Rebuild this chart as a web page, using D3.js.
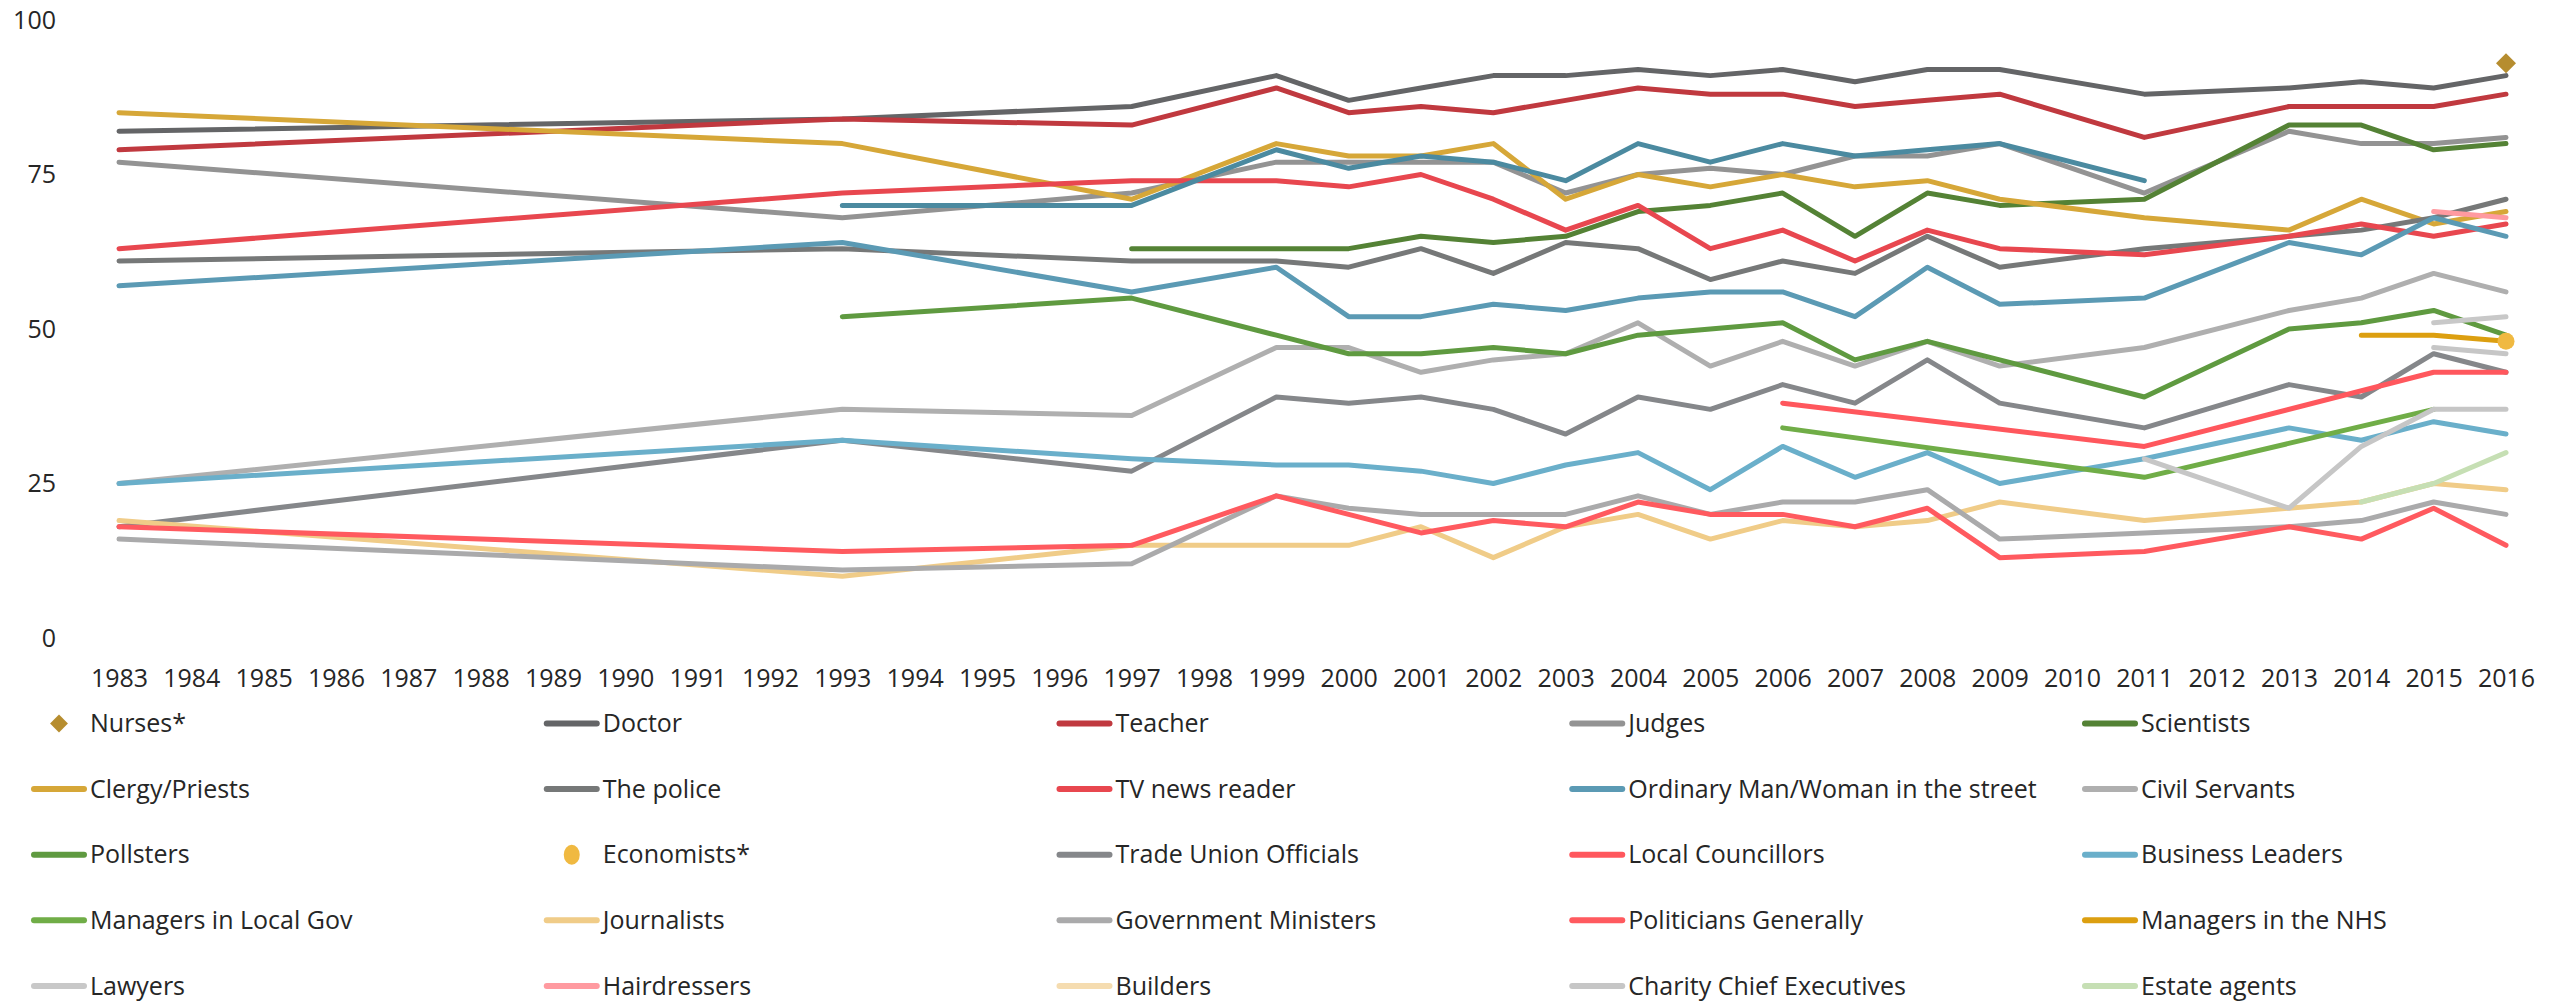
<!DOCTYPE html>
<html>
<head>
<meta charset="utf-8">
<script src="https://cdn.jsdelivr.net/npm/d3@7"></script>
<style>
  html, body { margin: 0; padding: 0; background: #fff; }
  svg { display: block; }
  text { font-family: "Open Sans", "Noto Sans", sans-serif; fill: #262626; }
</style>
</head>
<body>
<svg id="chart" width="2569" height="1001"></svg>
<script>
// ---------- data ----------
const axisYears = d3.range(1983, 2017).map(String);          // tick labels
const yTicks = [0, 25, 50, 75, 100];
const dataYears = ["1983","1993","1997","1999","2000","2001","2002","2003","2004","2005","2006","2007","2008","2009","2011","2013","2014","2015","2016"];
const _ = null;

const nurses        = [_,_,_,_,_,_,_,_,_,_,_,_,_,_,_,_,_,_,93];
const doctor        = [82,84,86,91,87,89,91,91,92,91,92,90,92,92,88,89,90,89,91];
const teacher       = [79,84,83,89,85,86,85,87,89,88,88,86,87,88,81,86,86,86,88];
const judges        = [77,68,72,77,77,77,77,72,75,76,75,78,78,80,72,82,80,80,81];
const scientists    = [_,_,63,63,63,65,64,65,69,70,72,65,72,70,71,83,83,79,80];
const clergy        = [85,80,71,80,78,78,80,71,75,73,75,73,74,71,68,66,71,67,69];
const police        = [61,63,61,61,60,63,59,64,63,58,61,59,65,60,63,65,66,68,71];
const tvNews        = [63,72,74,74,73,75,71,66,70,63,66,61,66,63,62,65,67,65,67];
const ordinary      = [57,64,56,60,52,52,54,53,55,56,56,52,60,54,55,64,62,68,65];
const civilServants = [25,37,36,47,47,43,45,46,51,44,48,44,48,44,47,53,55,59,56];
const pollsters     = [_,52,55,49,46,46,47,46,49,50,51,45,48,45,39,50,51,53,49];
const economists    = [_,_,_,_,_,_,_,_,_,_,_,_,_,_,_,_,_,_,48];
const tradeUnion    = [18,32,27,39,38,39,37,33,39,37,41,38,45,38,34,41,39,46,43];
const councillors   = [_,_,_,_,_,_,_,_,_,_,38,_,_,_,31,_,_,43,43];
const business      = [25,32,29,28,28,27,25,28,30,24,31,26,30,25,29,34,32,35,33];
const managersLG    = [_,_,_,_,_,_,_,_,_,_,34,_,_,_,26,_,_,37,_];
const journalists   = [19,10,15,15,15,18,13,18,20,16,19,18,19,22,19,21,22,25,24];
const govMinisters  = [16,11,12,23,21,20,20,20,23,20,22,22,24,16,17,18,19,22,20];
const politicians   = [18,14,15,23,20,17,19,18,22,20,20,18,21,13,14,18,16,21,15];
const managersNHS   = [_,_,_,_,_,_,_,_,_,_,_,_,_,_,_,_,49,49,48];
const lawyers       = [_,_,_,_,_,_,_,_,_,_,_,_,_,_,_,_,_,51,52];
const hairdressers  = [_,_,_,_,_,_,_,_,_,_,_,_,_,_,_,_,_,69,68];
const builders      = [_,_,_,_,_,_,_,_,_,_,_,_,_,_,_,_,_,_,_];
const charityCEs    = [_,_,_,_,_,_,_,_,_,_,_,_,_,_,_,_,_,47,46];
const estateAgents  = [_,_,_,_,_,_,_,_,_,_,_,_,_,_,_,_,22,25,30];
// two further series drawn in the plot whose legend rows fall outside the picture
const professors    = [_,70,70,79,76,78,77,74,80,77,80,78,79,80,74,_,_,_,_];
const bankers       = [_,_,_,_,_,_,_,_,_,_,_,_,_,_,29,21,31,37,37];

const seriesNames = ["Nurses*","Doctor","Teacher","Judges","Scientists",
  "Clergy/Priests","The police","TV news reader","Ordinary Man/Woman in the street","Civil Servants",
  "Pollsters","Economists*","Trade Union Officials","Local Councillors","Business Leaders",
  "Managers in Local Gov","Journalists","Government Ministers","Politicians Generally","Managers in the NHS",
  "Lawyers","Hairdressers","Builders","Charity Chief Executives","Estate agents",
  "Professors","Bankers"];
const seriesValues = [nurses,doctor,teacher,judges,scientists,
  clergy,police,tvNews,ordinary,civilServants,
  pollsters,economists,tradeUnion,councillors,business,
  managersLG,journalists,govMinisters,politicians,managersNHS,
  lawyers,hairdressers,builders,charityCEs,estateAgents,
  professors,bankers];
const seriesColors = ["#b68d2f","#646567","#c0393f","#939393","#548235",
  "#d6a738","#767878","#e8474f","#5b9ab4","#afafaf",
  "#5f9a40","#f0b941","#85878a","#ff575d","#6aafca",
  "#70ad47","#f0cc88","#aaaaab","#ff5a5f","#dc9f10",
  "#c8c8c8","#ff9aa0","#f5dcb0","#c6c6c6","#c6dfb4",
  "#4b8aa0","#c6c6c6"];
const seriesKinds = ["diamond","line","line","line","line",
  "line","line","line","line","line",
  "line","dot","line","line","line",
  "line","line","line","line","line",
  "line","line","line","line","line",
  "line","line"];
const legendCount = 25;   // rows visible in the picture
</script>
<script>
const svg = d3.select("#chart");
const FS = 25;
const x = d3.scalePoint().domain(axisYears).range([119, 2506]);
const y = d3.scaleLinear().domain([0, 100]).range([638, 20]);

// y axis labels
const yAxis = d3.axisLeft(y).tickValues(yTicks).tickSize(0).tickPadding(0);
const gy = svg.append("g").attr("transform", "translate(56,0)").call(yAxis);
gy.select(".domain").remove();
gy.selectAll("text").attr("font-size", FS).attr("font-family", "Open Sans").attr("fill", "#262626");

// x axis labels
const xAxis = d3.axisBottom(x).tickSize(0).tickPadding(0);
const gx = svg.append("g").attr("transform", "translate(0,678)").call(xAxis);
gx.select(".domain").remove();
gx.selectAll("text").attr("font-size", FS).attr("font-family", "Open Sans").attr("fill", "#262626")
  .attr("y", 0).attr("dy", "0.35em");

const series = seriesNames.map((name, i) => ({
  name, color: seriesColors[i], kind: seriesKinds[i],
  points: dataYears.map((yr, j) => ({ year: yr, value: seriesValues[i][j] })).filter(p => p.value !== null)
}));

const line = d3.line().x(d => x(d.year)).y(d => y(d.value));
const plot = svg.append("g");

series.forEach(s => {
  if (s.kind === "line" && s.points.length > 1) {
    plot.append("path").datum(s.points)
      .attr("d", line)
      .attr("fill", "none")
      .attr("stroke", s.color)
      .attr("stroke-width", 5)
      .attr("stroke-linejoin", "round")
      .attr("stroke-linecap", "round");
  }
});
series.forEach(s => {
  if (s.kind === "diamond") {
    plot.selectAll(null).data(s.points).join("path")
      .attr("d", d3.symbol(d3.symbolSquare, 200)())
      .attr("transform", d => `translate(${x(d.year)},${y(d.value)}) rotate(45)`)
      .attr("fill", s.color);
  } else if (s.kind === "dot") {
    plot.selectAll(null).data(s.points).join("circle")
      .attr("cx", d => x(d.year)).attr("cy", d => y(d.value)).attr("r", 8.5)
      .attr("fill", s.color);
  }
});

// legend
const legend = svg.append("g");
const colW = 512.75, rowH = 65.6, lx0 = 31, ly0 = 723.5;
series.slice(0, legendCount).forEach((s, i) => {
  const c = i % 5, r = Math.floor(i / 5);
  const g = legend.append("g").attr("transform", `translate(${lx0 + c * colW},${ly0 + r * rowH})`);
  if (s.kind === "diamond") {
    g.append("path").attr("d", d3.symbol(d3.symbolSquare, 160)())
      .attr("transform", "translate(28,0) rotate(45)").attr("fill", s.color);
  } else if (s.kind === "dot") {
    g.append("ellipse").attr("cx", 28).attr("cy", 0).attr("rx", 8).attr("ry", 10).attr("fill", s.color);
  } else {
    g.append("line").attr("x1", 3).attr("x2", 53).attr("y1", 0).attr("y2", 0)
      .attr("stroke", s.color).attr("stroke-width", 6).attr("stroke-linecap", "round");
  }
  g.append("text").attr("x", 59).attr("y", 0).attr("dy", "0.35em")
    .attr("font-size", FS).text(s.name);
});
</script>
</body>
</html>
